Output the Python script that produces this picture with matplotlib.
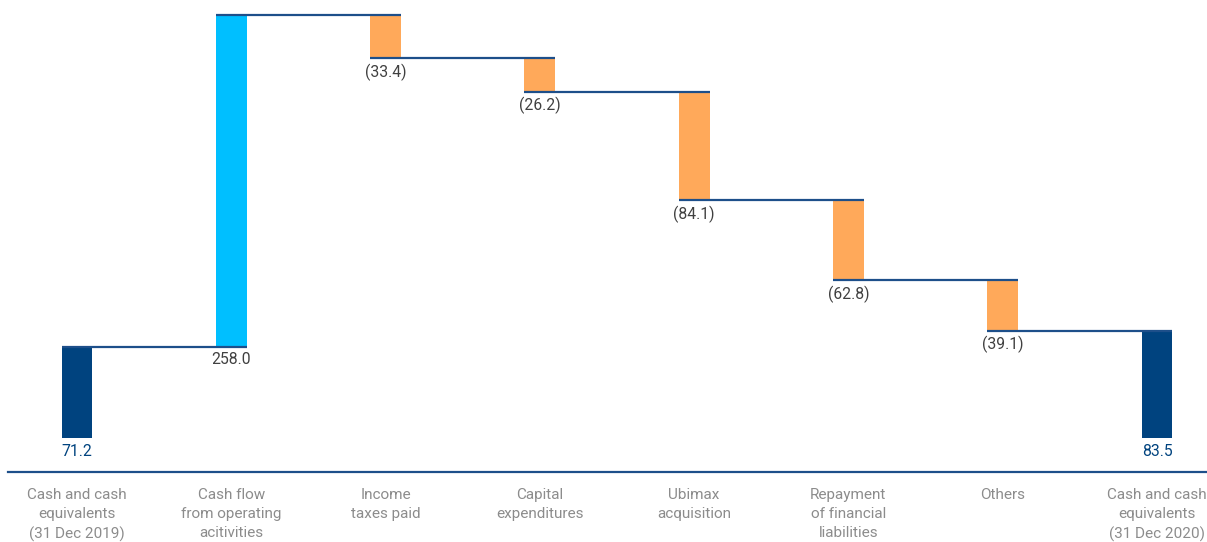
import matplotlib
matplotlib.use("Agg")
from matplotlib import pyplot as plt
import numpy as np

plt.rcParams['font.family'] = ['Roboto', 'DejaVu Sans']

# data
categories = ["Cash and cash\nequivalents\n(31 Dec 2019)",
              "Cash flow\nfrom operating\nacitivities",
              "Income\ntaxes paid",
              "Capital\nexpenditures",
              "Ubimax\nacquisition",
              "Repayment\nof financial\nliabilities",
              "Others",
              "Cash and cash\nequivalents\n(31 Dec 2020)"]
changes = [71.2, 258.0, -33.4, -26.2, -84.1, -62.8, -39.1, 83.5]
labels = ["71.2", "258.0", "(33.4)", "(26.2)", "(84.1)", "(62.8)", "(39.1)", "83.5"]
kinds = ["total", "up", "down", "down", "down", "down", "down", "total"]

navy = "#00437f"
light = "#00bfff"
orange = "#ffa95a"
line_c = "#1d4f8a"

fig = plt.figure(figsize=(12.07, 5.42), dpi=100)
ax = fig.add_axes([0, 0, 1, 1])

x = np.arange(len(categories))
w = 0.2

bottoms = []
tops = []
level = 0.0
for i, (c, k) in enumerate(zip(changes, kinds)):
    if k == "total":
        b, t = 0.0, c
        level = c
    elif k == "up":
        b, t = level, level + c
        level = t
    else:
        b, t = level + c, level
        level = b
    bottoms.append(b)
    tops.append(t)

colors = [navy if k == "total" else (light if k == "up" else orange) for k in kinds]
ax.bar(x, np.array(tops) - np.array(bottoms), bottom=bottoms, width=w,
       color=colors, zorder=2)

# connector lines: level after bar i, from left of bar i to right of bar i+1
for i in range(len(x) - 1):
    if kinds[i] == "down":
        lev = bottoms[i]
    else:
        lev = tops[i]
    ax.plot([x[i] - w / 2, x[i + 1] + w / 2], [lev, lev], color=line_c,
            lw=1.6, zorder=3, solid_capstyle='butt')

# value labels under each bar
for i in range(len(x)):
    col = navy if kinds[i] == "total" else "#404040"
    ax.annotate(labels[i], (x[i], bottoms[i]), xytext=(0, -4),
                textcoords='offset points', ha='center', va='top',
                fontsize=11.3, color=col)

# axis line and category labels
ax.plot([-0.447, 7.5], [-26.5, -26.5], color=line_c, lw=1.6, clip_on=False)
for i, cat in enumerate(categories):
    ax.text(x[i], -38.8, cat, ha='center', va='top', fontsize=11,
            color="#8c8c8c", linespacing=1.45)

ax.set_xlim(-0.499, 7.324)
ax.set_ylim(-80.9, 340.9)
ax.axis('off')

plt.savefig('out.png', dpi=100)
